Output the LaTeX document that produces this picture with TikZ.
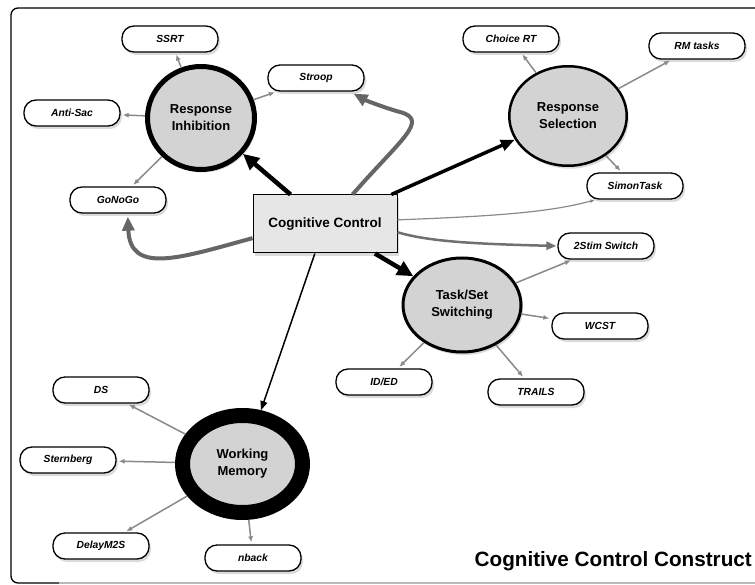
\documentclass[tikz,border=0pt]{standalone}
\usepackage{fontspec}
\setmainfont{Liberation Sans}
\usetikzlibrary{shapes.geometric,arrows.meta,shadows,calc}
\definecolor{ellfill}{HTML}{D3D3D3}
\definecolor{boxfill}{HTML}{E6E6E6}
\definecolor{subgray}{HTML}{8A8A8A}
\definecolor{thickgray}{HTML}{666666}
\definecolor{midgray}{HTML}{707070}
\begin{document}
\begin{tikzpicture}[x=1pt,y=-1pt,
  shad/.style={drop shadow={shadow xshift=2pt,shadow yshift=-3pt,opacity=0.28}},
  task/.style={draw, fill=white, line width=1.3pt, rounded corners=12pt,
    minimum width=96pt, minimum height=26pt, inner sep=0pt,
    font=\bfseries\itshape\fontsize{10.3}{12}\selectfont, shad},
  construct/.style={ellipse, draw, fill=ellfill, inner sep=0pt, align=center,
    font=\bfseries\fontsize{13}{17}\selectfont, shad},
  subarrow/.style={draw=subgray, line width=1.5pt, -{Latex[length=6pt,width=5pt]}, shorten >=2pt},
  blackthick/.style={line width=4.5pt, -{Triangle[length=16pt,width=15pt]}},
  graythick/.style={draw=thickgray, line width=4pt, -{Triangle[length=14pt,width=12pt]}},
]
\useasboundingbox (0,0) rectangle (755,585);
\fill[white] (0,0) rectangle (755,585);
% frame
\draw[line width=1.3pt, rounded corners=7pt] (770,8) -- (11,8) -- (11,583) -- (60,583);
\draw[gray!55, line width=1.3pt] (59,583) -- (770,583);

% central box
\node[draw, fill=boxfill, line width=1pt, minimum width=144pt, minimum height=58pt,
  font=\bfseries\fontsize{13.5}{16}\selectfont, shad] (CC) at (325,224) {Cognitive Control};

% constructs
\node[construct, line width=5pt, minimum width=107pt, minimum height=103pt] (RI) at (201,118) {Response\\Inhibition};
\node[construct, line width=2.5pt, minimum width=117.5pt, minimum height=99.5pt] (RS) at (568,116) {Response\\Selection};
\node[construct, line width=3pt, minimum width=118pt, minimum height=94pt] (TS) at (462,305) {Task/Set\\Switching};
\node[construct, line width=15pt, minimum width=120pt, minimum height=97pt] (WM) at (242.5,464) {Working\\Memory};

% tasks
\node[task] (SSRT) at (170,39) {SSRT};
\node[task] (Stroop) at (316,78) {Stroop};
\node[task] (AntiSac) at (72,113) {Anti-Sac};
\node[task] (GNG) at (118,200) {GoNoGo};
\node[task] (Choice) at (511,39) {Choice RT};
\node[task] (RM) at (697,46) {RM tasks};
\node[task] (Simon) at (635,186) {SimonTask};
\node[task] (Stim) at (606,246) {2Stim Switch};
\node[task] (WCST) at (600,326) {WCST};
\node[task] (IDED) at (384,382) {ID/ED};
\node[task] (TRAILS) at (536,392) {TRAILS};
\node[task] (DS) at (101,390) {DS};
\node[task] (Stern) at (68,460) {Sternberg};
\node[task] (Delay) at (101,546) {DelayM2S};
\node[task] (nback) at (253,558) {nback};

% sub arrows
\draw[subarrow] (RI) -- (SSRT);
\draw[subarrow] (RI) -- (Stroop);
\draw[subarrow] (RI) -- (AntiSac);
\draw[subarrow] (RI) -- (GNG);
\draw[subarrow] (RS) -- (Choice);
\draw[subarrow] (RS) -- (RM);
\draw[subarrow] (RS) -- (Simon);
\draw[subarrow] (TS) -- (Stim);
\draw[subarrow] (TS) -- (WCST);
\draw[subarrow] (TS) -- (IDED);
\draw[subarrow] (TS) -- (TRAILS);
\draw[subarrow] (WM) -- (DS);
\draw[subarrow] (WM) -- (Stern);
\draw[subarrow] (WM) -- (Delay);
\draw[subarrow] (WM) -- (nback);

% main arrows
\draw[blackthick] (CC) -- (RI);
\draw[line width=3.5pt, -{Triangle[length=14pt,width=11pt]}] (CC) -- (RS);
\draw[blackthick] (CC) -- (TS);
\draw[line width=1.5pt, -{Triangle[length=9pt,width=7pt]}] (CC) -- (WM);
\draw[graythick, shorten >=4pt] ($(CC.north west)!0.69!(CC.north east)$)
  .. controls (400,140) and (430,120) .. (400,112)
  .. controls (385,108) and (365,100) .. ($(Stroop.south west)!0.85!(Stroop.south east)$);
\draw[graythick, shorten >=3pt] ($(CC.north west)!0.74!(CC.south west)$)
  .. controls (180,258) and (130,275) .. ($(GNG.south)!0.2!(GNG.south east)$);
\draw[draw=subgray, line width=1.2pt, -{Latex[length=5pt,width=4pt]}, shorten >=1pt]
  ($(CC.north east)!0.43!(CC.south east)$) .. controls (500,216) and (550,212) .. ($(Simon.south west)!0.1!(Simon.south east)$);
\draw[draw=midgray, line width=2.5pt, -{Triangle[length=10pt,width=8pt]}, shorten >=1pt]
  ($(CC.north east)!0.64!(CC.south east)$) .. controls (430,242) and (480,244) .. (Stim.west);

% title
\node[anchor=base east, font=\bfseries\fontsize{20.7}{24}\selectfont, inner sep=0pt] (title) at (752,566) {Cognitive Control Construct};
\end{tikzpicture}
\end{document}
